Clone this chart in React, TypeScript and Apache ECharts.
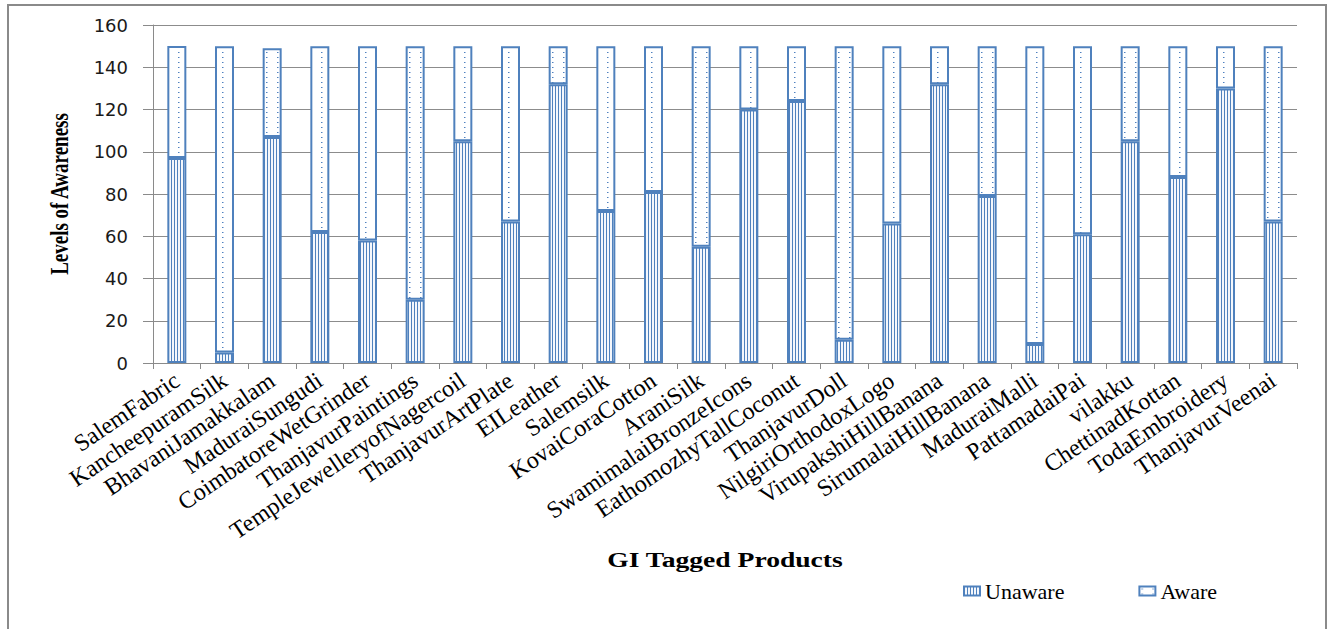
import React, { useEffect, useRef } from "react";
import * as echarts from "echarts";

const categories = [
  "SalemFabric",
  "KancheepuramSilk",
  "BhavaniJamakkalam",
  "MaduraiSungudi",
  "CoimbatoreWetGrinder",
  "ThanjavurPaintings",
  "TempleJewelleryofNagercoil",
  "ThanjavurArtPlate",
  "EILeather",
  "Salemsilk",
  "KovaiCoraCotton",
  "AraniSilk",
  "SwamimalaiBronzeIcons",
  "EathomozhyTallCoconut",
  "ThanjavurDoll",
  "NilgiriOrthodoxLogo",
  "VirupakshiHillBanana",
  "SirumalaiHillBanana",
  "MaduraiMalli",
  "PattamadaiPai",
  "vilakku",
  "ChettinadKottan",
  "TodaEmbroidery",
  "ThanjavurVeenai",
];

const unaware = [97, 5, 107, 62, 58, 30, 105, 67, 132, 72, 81, 55, 120, 124, 11, 66, 132, 79, 9, 61, 105, 88, 130, 67];
const aware = [53, 145, 42, 88, 92, 120, 45, 83, 18, 78, 69, 95, 30, 26, 139, 84, 18, 71, 141, 89, 45, 62, 20, 83];

const seriesNames = ["Unaware", "Aware"];
const yMin = 0;
const yMax = 160;
const yInterval = 20;

const xTitle = "GI Tagged Products";
const yTitle = "Levels of Awareness";

function makeStripe(): HTMLCanvasElement {
  const c = document.createElement("canvas");
  c.width = 3;
  c.height = 4;
  const g = c.getContext("2d")!;
  g.fillStyle = "#f4f7fc";
  g.fillRect(0, 0, 3, 4);
  g.fillStyle = "#4f81bd";
  g.fillRect(0, 0, 1, 4);
  return c;
}

function makeDots(): HTMLCanvasElement {
  const c = document.createElement("canvas");
  c.width = 11;
  c.height = 5;
  const g = c.getContext("2d")!;
  g.fillStyle = "#ffffff";
  g.fillRect(0, 0, 11, 5);
  g.fillStyle = "#4f81bd";
  g.fillRect(2, 2, 1, 1);
  g.fillStyle = "#a9c0e2";
  g.fillRect(3, 2, 1, 1);
  return c;
}

export default function App() {
  const ref = useRef<HTMLDivElement>(null);

  useEffect(() => {
    document.body.style.margin = "0";
    const chart = echarts.init(ref.current!, null, { renderer: "svg" });
    const stripe = { image: makeStripe(), repeat: "repeat" };
    const dots = { image: makeDots(), repeat: "repeat" };
    const axisGray = "#8a8a8a";

    chart.setOption({
      animation: false,
      backgroundColor: "#ffffff",
      grid: { left: 153, right: 33, top: 25, bottom: 266, containLabel: false },
      legend: {
        data: seriesNames,
        left: 963,
        top: 580,
        padding: 0,
        icon: "rect",
        itemWidth: 16,
        itemHeight: 9,
        itemGap: 74,
        textStyle: { fontFamily: "Liberation Serif", fontSize: 22, color: "#000" },
      },
      xAxis: {
        type: "category",
        data: categories,
        axisLine: { show: true, lineStyle: { color: axisGray, width: 1 } },
        axisTick: { show: true, length: 6, lineStyle: { color: axisGray } },
        axisLabel: {
          interval: 0,
          rotate: 34,
          margin: 15,
          fontFamily: "Liberation Serif",
          fontSize: 24,
          color: "#000",
        },
      },
      yAxis: {
        type: "value",
        min: yMin,
        max: yMax,
        interval: yInterval,
        axisLine: { show: true, lineStyle: { color: axisGray, width: 1 } },
        axisTick: { show: true, length: 10, lineStyle: { color: axisGray } },
        splitLine: { show: true, lineStyle: { color: "#8c8c8c", width: 1 } },
        axisLabel: {
          margin: 25,
          fontFamily: "DejaVu Sans",
          fontSize: 18,
          color: "#1a1a1a",
        },
      },
      graphic: [
        {
          type: "rect",
          shape: { x: 8, y: 5, width: 1318, height: 700 },
          style: { fill: "none", stroke: "#8a8a8a", lineWidth: 2 },
          silent: true,
        },
        {
          type: "text",
          x: 725,
          y: 560,
          scaleX: 1.38,
          style: {
            text: xTitle,
            fontFamily: "Liberation Serif",
            fontWeight: "bold",
            fontSize: 20,
            fill: "#000",
            align: "center",
            verticalAlign: "middle",
          },
        },
        {
          type: "text",
          x: 60,
          y: 194,
          rotation: Math.PI / 2,
          scaleY: 1.3,
          style: {
            text: yTitle,
            fontFamily: "Liberation Serif",
            fontWeight: "bold",
            fontSize: 19,
            fill: "#000",
            align: "center",
            verticalAlign: "middle",
          },
        },
      ],
      series: [
        {
          name: seriesNames[0],
          type: "bar",
          stack: "total",
          barWidth: 19,
          data: unaware,
          itemStyle: { color: stripe, borderColor: "#4f81bd", borderWidth: 2 },
        },
        {
          name: seriesNames[1],
          type: "bar",
          stack: "total",
          barWidth: 19,
          data: aware,
          itemStyle: { color: dots, borderColor: "#4f81bd", borderWidth: 2 },
        },
      ],
    });

    return () => chart.dispose();
  }, []);

  return <div ref={ref} style={{ width: 1330, height: 629 }} />;
}
